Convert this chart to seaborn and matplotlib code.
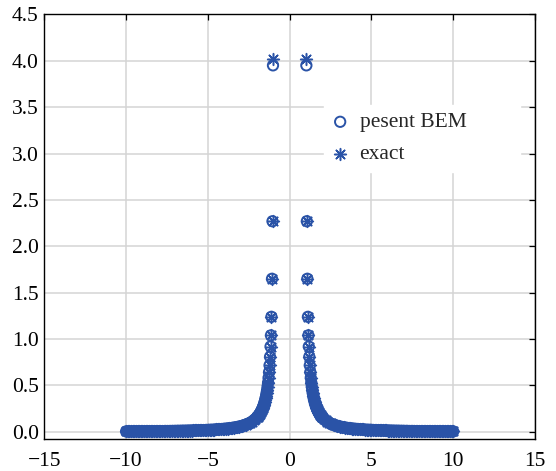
import matplotlib
matplotlib.use("Agg")
import matplotlib.pyplot as plt
import seaborn as sns
import pandas as pd

# Node positions along the line (right and left of the crack) and the field values
x_right = [1.02, 1.05, 1.08, 1.115, 1.145, 1.17, 1.20, 1.23, 1.26, 1.29, 1.32, 1.35,
           1.38, 1.41, 1.44, 1.47, 1.50, 1.53, 1.56, 1.59, 1.62, 1.65, 1.68, 1.71,
           1.74, 1.77, 1.80, 1.83, 1.86, 1.89, 1.92, 1.95, 1.98,
           2.0, 2.1, 2.2, 2.3, 2.4, 2.5, 2.6, 2.7, 2.8, 2.9,
           3.0, 3.1, 3.2, 3.3, 3.4, 3.5, 3.6, 3.7, 3.8, 3.9,
           4.0, 4.1, 4.2, 4.3, 4.4, 4.5, 4.6, 4.7, 4.8, 4.9,
           5.0, 5.1, 5.2, 5.3, 5.4, 5.5, 5.6, 5.7, 5.8, 5.9,
           6.0, 6.1, 6.2, 6.3, 6.4, 6.5, 6.6, 6.7, 6.8, 6.9,
           7.0, 7.1, 7.2, 7.3, 7.4, 7.5, 7.6, 7.7, 7.8, 7.9,
           8.0, 8.1, 8.2, 8.3, 8.4, 8.5, 8.6, 8.7, 8.8, 8.9,
           9.0, 9.1, 9.2, 9.3, 9.4, 9.5, 9.6, 9.7, 9.8, 9.9, 10.0]

x_left = [-1.02, -1.05, -1.08, -1.115, -1.145, -1.17, -1.20, -1.23, -1.26, -1.29, -1.32, -1.35,
          -1.38, -1.41, -1.44, -1.47, -1.50, -1.53, -1.56, -1.59, -1.62, -1.65, -1.68, -1.71,
          -1.74, -1.77, -1.80, -1.83, -1.86, -1.89, -1.92, -1.95, -1.98,
          -2.0, -2.1, -2.2, -2.3, -2.4, -2.5, -2.6, -2.7, -2.8, -2.9,
          -3.0, -3.1, -3.2, -3.3, -3.4, -3.5, -3.6, -3.7, -3.8, -3.9,
          -4.0, -4.1, -4.2, -4.3, -4.4, -4.5, -4.6, -4.7, -4.8, -4.9,
          -5.0, -5.1, -5.2, -5.3, -5.4, -5.5, -5.6, -5.7, -5.8, -5.9,
          -6.0, -6.1, -6.2, -6.3, -6.4, -6.5, -6.6, -6.7, -6.8, -6.9,
          -7.0, -7.1, -7.2, -7.3, -7.4, -7.5, -7.6, -7.7, -7.8, -7.9,
          -8.0, -8.1, -8.2, -8.3, -8.4, -8.5, -8.6, -8.7, -8.8, -8.9,
          -9.0, -9.1, -9.2, -9.3, -9.4, -9.5, -9.6, -9.7, -9.8, -9.9, -10.0]

y_exact = [4.02, 2.27, 1.65, 1.24, 1.04, 0.92, 0.809, 0.717, 0.644, 0.583, 0.532, 0.489,
           0.451, 0.419, 0.390, 0.364, 0.342, 0.321, 0.303, 0.286, 0.271, 0.257, 0.244, 0.233,
           0.222, 0.212, 0.203, 0.194, 0.186, 0.178, 0.171, 0.165, 0.159,
           0.155, 0.137, 0.123, 0.110, 0.100, 0.091, 0.083, 0.077, 0.071, 0.065,
           0.061, 0.056, 0.052, 0.049, 0.046, 0.043, 0.041, 0.039, 0.036, 0.034,
           0.033, 0.031, 0.030, 0.028, 0.027, 0.026, 0.024, 0.023, 0.022, 0.022,
           0.021, 0.020, 0.019, 0.018, 0.018, 0.017, 0.016, 0.016, 0.015, 0.015,
           0.014, 0.014, 0.013, 0.013, 0.012, 0.012, 0.012, 0.011, 0.011, 0.011,
           0.010, 0.010, 0.010, 0.009, 0.009, 0.009, 0.009, 0.008, 0.008, 0.008,
           0.008, 0.008, 0.007, 0.007, 0.007, 0.007, 0.007, 0.007, 0.006, 0.006,
           0.006, 0.006, 0.006, 0.006, 0.006, 0.006, 0.005, 0.005, 0.005, 0.005, 0.005]

y_bem = [3.95, 2.27, 1.65, 1.24, 1.04, 0.92, 0.809, 0.717, 0.644, 0.583, 0.532, 0.489,
         0.451, 0.419, 0.390, 0.364, 0.342, 0.321, 0.303, 0.286, 0.271, 0.257, 0.244, 0.233,
         0.222, 0.212, 0.203, 0.194, 0.186, 0.178, 0.171, 0.165, 0.159,
         0.155, 0.137, 0.123, 0.110, 0.100, 0.091, 0.083, 0.077, 0.071, 0.065,
         0.061, 0.056, 0.052, 0.049, 0.046, 0.043, 0.041, 0.039, 0.036, 0.034,
         0.033, 0.031, 0.030, 0.028, 0.027, 0.026, 0.024, 0.023, 0.022, 0.022,
         0.021, 0.020, 0.019, 0.018, 0.018, 0.017, 0.016, 0.016, 0.015, 0.015,
         0.014, 0.014, 0.013, 0.013, 0.012, 0.012, 0.012, 0.011, 0.011, 0.011,
         0.010, 0.010, 0.010, 0.009, 0.009, 0.009, 0.009, 0.008, 0.008, 0.008,
         0.008, 0.008, 0.007, 0.007, 0.007, 0.007, 0.007, 0.007, 0.006, 0.006,
         0.006, 0.006, 0.006, 0.006, 0.006, 0.006, 0.005, 0.005, 0.005, 0.005, 0.005]

x_ticks = [-15, -10, -5, 0, 5, 10, 15]
y_ticks = [0.0, 0.5, 1.0, 1.5, 2.0, 2.5, 3.0, 3.5, 4.0, 4.5]

df = pd.DataFrame({
    "x": x_left + x_right,
    "bem": y_bem + y_bem,
    "exact": y_exact + y_exact,
})

sns.set_style("white")
plt.rcParams["font.family"] = ["Liberation Serif", "DejaVu Serif"]

blue = "#2a53a7"

fig = plt.figure(figsize=(5.56, 4.71), dpi=100)
ax = fig.add_axes([0.0797, 0.0673, 0.8826, 0.9023])

sns.scatterplot(data=df, x="x", y="bem", ax=ax, marker="o", s=55,
                facecolor="none", edgecolor=blue, linewidth=1.4,
                label="pesent BEM", zorder=3)
sns.scatterplot(data=df, x="x", y="exact", ax=ax, marker=(8, 2, 0), s=72,
                color=blue, linewidth=1.1, label="exact", zorder=4)

ax.set_xlim(-15, 15)
ax.set_ylim(-0.08, 4.5)
ax.set_xticks(x_ticks)
ax.set_yticks(y_ticks)
ax.set_yticklabels([f"{v:.1f}" for v in y_ticks])
ax.set_xlabel("")
ax.set_ylabel("")

ax.grid(True, color="#d4d4d4", linewidth=1.1, zorder=0)
ax.set_axisbelow(True)
ax.tick_params(direction="in", top=True, right=True, length=4, width=0.9,
               labelsize=15.5, colors="black", pad=4)
ax.tick_params(axis="x", pad=9)
for sp in ax.spines.values():
    sp.set_color("black")
    sp.set_linewidth(1.0)

leg = ax.legend(loc="upper left", bbox_to_anchor=(0.57, 0.627, 0.40, 0.16),
                mode="expand", borderaxespad=0,
                frameon=True, fancybox=False, edgecolor="white", framealpha=1,
                fontsize=15.5, handlelength=0.8, handletextpad=0.5,
                labelspacing=0.55, borderpad=0.35, scatterpoints=1)

fig.savefig("out.png", dpi=100, facecolor="white")
